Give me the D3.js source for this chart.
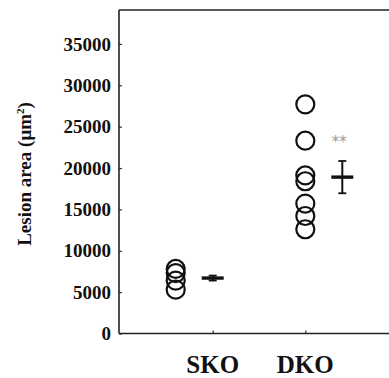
<!DOCTYPE html>
<html><head><meta charset="utf-8">
<script src="https://cdn.jsdelivr.net/npm/d3@7"></script>
<style>
html,body{margin:0;padding:0;background:#fff;}
svg{display:block;font-family:"Liberation Serif","Times New Roman",serif;}
</style></head>
<body>
<svg id="c" width="389" height="378"></svg>
<script>
const categories = ["SKO", "DKO"];
const skoValues = [7800, 7300, 6400, 5300];
const dkoValues = [27700, 23300, 19100, 18400, 15700, 14200, 12600];
const means = [6700, 18900];
const sems = [300, 1950];
const yTicks = [0, 5000, 10000, 15000, 20000, 25000, 30000, 35000];
const yLabel = "Lesion area (μm";
const signif = "**";

(function () {
const svg = d3.select("#c");
const pL = 119, pT = 10, pB = 333.5, pR = 392;
const y = d3.scaleLinear().domain([0, 39100]).range([pB, pT]);
const x = d3.scalePoint().domain(categories).range([212.7, 305.3]);

const ptOff = {SKO: -37, DKO: 0};
const meanOff = {SKO: 0, DKO: 37};

svg.append("line").attr("x1", pL).attr("x2", pR).attr("y1", pT).attr("y2", pT)
  .attr("stroke", "#222").attr("stroke-width", 1.6);

const yAxis = svg.append("g").attr("transform", `translate(${pL},0)`)
  .call(d3.axisRight(y).tickValues(yTicks).tickSize(3).tickFormat(""));
yAxis.select(".domain").remove();
yAxis.selectAll(".tick line").attr("stroke", "#333").attr("stroke-width", 1.2);
svg.append("line").attr("x1", pL).attr("x2", pL).attr("y1", pT).attr("y2", pB)
  .attr("stroke", "#222").attr("stroke-width", 1.6);

svg.append("g").selectAll("text").data(yTicks).join("text")
  .attr("x", 111).attr("y", d => y(d)).attr("dy", "0.35em")
  .attr("text-anchor", "end").attr("font-size", 19).attr("font-weight", "bold")
  .attr("fill", "#111").text(d => d);

const xAxis = svg.append("g").attr("transform", `translate(0,${pB})`)
  .call(d3.axisTop(x).tickSize(3).tickFormat(""));
xAxis.select(".domain").remove();
xAxis.selectAll(".tick line").attr("stroke", "#333").attr("stroke-width", 1.2);
svg.append("line").attr("x1", pL).attr("x2", pR).attr("y1", pB).attr("y2", pB)
  .attr("stroke", "#222").attr("stroke-width", 1.6);

svg.append("g").selectAll("text").data(categories).join("text")
  .attr("x", d => x(d)).attr("y", 373).attr("text-anchor", "middle")
  .attr("font-size", 25).attr("font-weight", "bold").attr("fill", "#111").text(d => d);

const yl = svg.append("text").attr("transform", "translate(31,174) rotate(-90)")
  .attr("text-anchor", "middle").attr("font-size", 19).attr("font-weight", "bold").attr("fill", "#111");
yl.append("tspan").text(yLabel);
yl.append("tspan").attr("font-size", 11).attr("dy", -7).text("2");
yl.append("tspan").attr("dy", 7).text(")");

const groups = [{k: "SKO", v: skoValues}, {k: "DKO", v: dkoValues}];
groups.forEach(g => {
  svg.append("g").selectAll("circle").data(g.v).join("circle")
    .attr("cx", x(g.k) + ptOff[g.k]).attr("cy", d => y(d)).attr("r", 9)
    .attr("fill", "none").attr("stroke", "#111").attr("stroke-width", 2.2);
});

categories.forEach((c, i) => {
  const cx = x(c) + meanOff[c];
  const g = svg.append("g").attr("stroke", "#111");
  g.append("line").attr("x1", cx).attr("x2", cx).attr("y1", y(means[i] + sems[i])).attr("y2", y(means[i] - sems[i]))
    .attr("stroke-width", 2);
  [means[i] + sems[i], means[i] - sems[i]].forEach(v => {
    g.append("line").attr("x1", cx - 4).attr("x2", cx + 4).attr("y1", y(v)).attr("y2", y(v)).attr("stroke-width", 1.8);
  });
  g.append("line").attr("x1", cx - 11).attr("x2", cx + 11).attr("y1", y(means[i])).attr("y2", y(means[i]))
    .attr("stroke-width", 3.4);
});

svg.append("text").attr("x", x("DKO") + 34).attr("y", y(23300) + 6).attr("text-anchor", "middle")
  .attr("font-size", 15).attr("fill", "#999").attr("font-family", "DejaVu Sans").text(signif);
})();
</script>
</body></html>
